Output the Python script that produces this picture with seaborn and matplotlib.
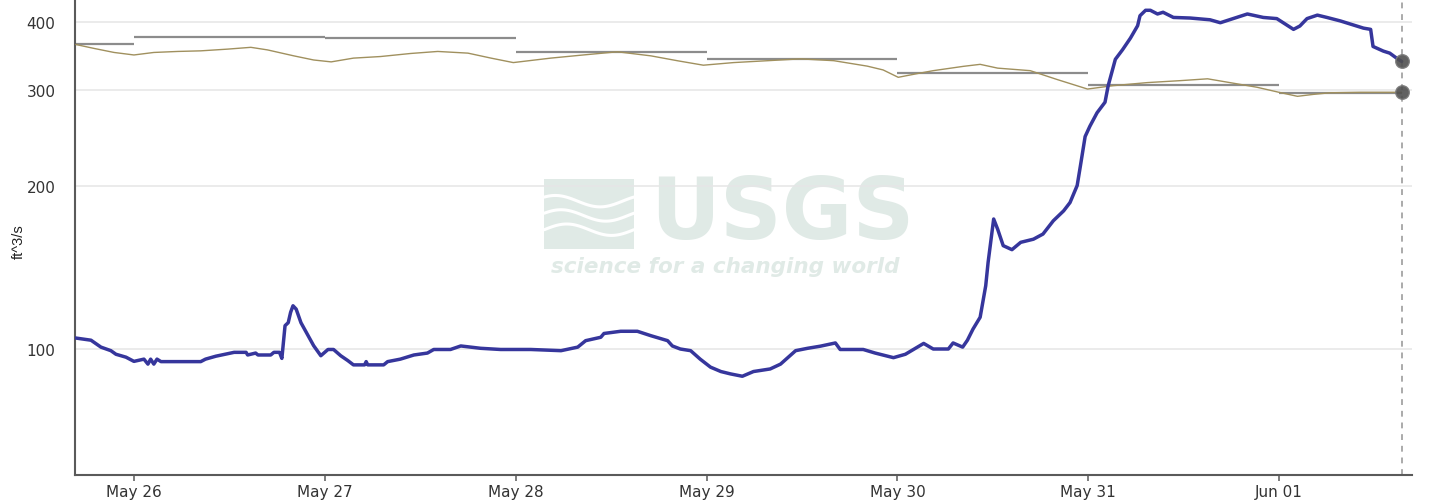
import numpy as np
import pandas as pd
import matplotlib
matplotlib.use("Agg")
import matplotlib.pyplot as plt
import matplotlib.dates as mdates
from matplotlib.patches import Rectangle
import seaborn as sns

# ---- data -------------------------------------------------------------
START = pd.Timestamp("2023-05-26 00:00")

# discharge, hours since May 26 00:00
discharge_hours = [
    -7.4, -5.4, -4.15, -2.9, -2.26, -1.0, 0.0, 1.26, 1.76, 2.1, 2.5, 2.9, 3.4,
    4.6, 8.4, 9.0, 10.3, 12.6, 14.1, 14.3, 15.3, 15.6, 17.2, 17.6, 18.3, 18.6,
    19.0, 19.4, 19.7, 20.0, 20.4, 21.0, 21.9, 22.6, 23.5, 24.4, 25.1, 26.0,
    26.9, 27.6, 29.0, 29.2, 29.4, 31.4, 31.9, 33.5, 35.2, 36.9, 37.7, 39.8,
    41.1, 42.3, 43.6, 46.1, 49.9, 53.7, 55.8, 56.8, 58.7, 59.1, 61.2, 63.3,
    65.0, 67.1, 67.7, 68.7, 70.0, 71.2, 72.5, 73.8, 75.0, 76.5, 77.9, 80.0,
    81.3, 83.2, 84.7, 86.3, 88.2, 88.8, 91.7, 93.2, 95.5, 97.0, 99.3, 100.5,
    102.4, 103.0, 104.2, 104.8, 105.5, 106.4, 107.1, 107.4, 108.1, 108.6,
    109.3, 110.4, 111.5, 113.1, 114.3, 115.6, 116.9, 117.7, 118.6, 119.0,
    119.6, 120.2, 121.1, 122.1, 122.5, 123.4, 124.3, 125.3, 126.2, 126.5,
    127.2, 127.8, 128.7, 129.4, 130.7, 132.8, 135.3, 136.6, 138.2, 140.0,
    142.0, 143.7, 144.5, 145.8, 146.6, 147.5, 148.8, 150.0, 151.7, 152.9,
    154.6, 155.5, 155.8, 157.1, 157.9, 158.9, 159.4,
]
discharge_cfs = [
    105, 104, 101, 99.5, 98, 96.8, 95.1, 96, 94, 96, 94, 96, 95,
    95, 95, 96, 97.2, 98.8, 98.8, 97.7, 98.5, 97.7, 97.7, 98.8, 98.8, 96.3,
    110.6, 112, 117, 120.3, 118.6, 112, 106, 101.6, 97.4, 100, 100, 97.4,
    95.4, 93.7, 93.7, 95, 93.7, 93.7, 95, 96, 97.7, 98.5, 100, 100,
    101.5, 101, 100.5, 100, 100, 99.5, 101, 103.8, 105.3, 107, 108, 108,
    106, 103.8, 101.5, 100.2, 99.5, 96, 92.8, 91.1, 90.2, 89.3, 91.1, 92.1,
    94, 99.5, 100.5, 101.4, 102.8, 100, 100, 98.5, 96.6, 98, 102.6, 100.2,
    100.2, 102.8, 101, 104, 109, 114.6, 130.9, 144.5, 173.6, 166.3,
    155.1, 152.5, 157.3, 159.4, 162.9, 172.3, 179.7, 186.1, 200, 217,
    246, 257, 272, 284.4, 305, 341, 355, 373, 393, 410,
    419.5, 419.5, 413, 416, 407, 406, 403, 398, 405, 413,
    407, 405, 398, 387, 392.5, 405, 411, 407, 401, 396,
    389, 387, 360, 353, 350, 341.5, 338,
]

# second discharge series, hours since May 26 00:00
reference_hours = [
    -7.3, -5.0, -2.5, 0.0, 2.5, 5.5, 8.4, 11.8, 14.7, 16.8, 20.1, 22.6, 24.8,
    27.6, 31.0, 34.8, 38.2, 42.0, 44.9, 47.7, 52.4, 56.5, 60.8, 65.0, 68.4,
    71.6, 75.4, 79.7, 83.8, 88.0, 92.2, 94.2, 96.1, 98.5, 100.5, 104.3, 106.4,
    108.6, 112.7, 116.1, 119.9, 123.1, 127.4, 131.6, 135.0, 137.8, 141.2,
    144.1, 146.3, 148.3, 150.4, 154.2, 159.4,
]
reference_cfs = [
    363, 357, 351, 347.3, 351, 352.5, 353.4, 356, 358.7, 354.8, 346, 340, 337.3,
    342.7, 345, 349.5, 352.5, 350, 342.7, 336.3, 342.7, 347.3, 352, 346, 338.8,
    332.6, 336.3, 339, 341.6, 339, 331.3, 326, 316, 321, 325, 331, 333.8,
    328.5, 325, 313, 300.7, 305, 309, 311.6, 314, 309, 303,
    296.3, 291.6, 294, 296, 296.6, 296.6,
]

# daily statistic, one value per calendar day
daily_dates = ["2023-05-25", "2023-05-26", "2023-05-27", "2023-05-28",
               "2023-05-29", "2023-05-30", "2023-05-31", "2023-06-01"]
daily_cfs = [364, 375, 373, 352, 342, 322, 306, 296]

y_ticks = [100, 200, 300, 400]

# ---- frames -----------------------------------------------------------
flow = pd.DataFrame({
    "time": START + pd.to_timedelta(discharge_hours, unit="h"),
    "cfs": discharge_cfs,
})
ref = pd.DataFrame({
    "time": START + pd.to_timedelta(reference_hours, unit="h"),
    "cfs": reference_cfs,
})
last_time = flow["time"].iloc[-1]
day_start = pd.to_datetime(daily_dates)
day_end = [min(d + pd.Timedelta(days=1), last_time) for d in day_start]

# ---- figure -----------------------------------------------------------
sns.set_theme(style="white")
plt.rcParams["font.family"] = ["DejaVu Sans"]

W, H = 1449, 502
fig = plt.figure(figsize=(W / 100, H / 100), dpi=100)
ax = fig.add_axes([75 / W, (H - 475.7) / H, 1337 / W, 475.7 / H])
ax.set_yscale("log")

# watermark
wm = "#e0eae6"
ax.add_patch(Rectangle((0.351, 0.474), 0.067, 0.147, transform=ax.transAxes,
                       facecolor=wm, edgecolor="none", zorder=0))
xs = np.linspace(0.351, 0.418, 60)
for k, base in enumerate([0.515, 0.545, 0.575]):
    ax.plot(xs, base + 0.012 * np.sin((xs - 0.351) / 0.067 * 2 * np.pi + k * 0.4),
            transform=ax.transAxes, color="white", lw=2.2, zorder=0.5)
ax.text(0.529, 0.548, "USGS", transform=ax.transAxes, ha="center", va="center",
        fontsize=62, fontweight="bold", color=wm, zorder=0)
ax.text(0.486, 0.439, "science for a changing world", transform=ax.transAxes,
        ha="center", va="center", fontsize=15.5, fontweight="bold",
        fontstyle="italic", color=wm, zorder=0)

# gridlines
for v in y_ticks:
    ax.axhline(v, color="#e6e6e6", lw=1.1, zorder=1)

# daily statistic bars
ax.hlines(daily_cfs, day_start, day_end, color="#8c8c8c", lw=1.6, zorder=2)

# series
sns.lineplot(data=ref, x="time", y="cfs", ax=ax, color="#a0905e", lw=1.0,
             estimator=None, zorder=3)
sns.lineplot(data=flow, x="time", y="cfs", ax=ax, color="#36369c", lw=2.5,
             estimator=None, zorder=4)

# current-time marker
ax.axvline(last_time, color="#aaaaaa", lw=1.4, ls=(0, (3, 3)), zorder=2)
ax.scatter([last_time, last_time], [flow["cfs"].iloc[-1], ref["cfs"].iloc[-1]],
           s=95, color="#505050", edgecolor="#7a7a7a", linewidth=1.0,
           alpha=0.9, zorder=5)

# axes
ax.set_xlim(START - pd.Timedelta(hours=7.41), START + pd.Timedelta(hours=160.7))
ax.set_ylim(58.9, 440)
ax.set_yticks(y_ticks)
ax.set_yticklabels([str(v) for v in y_ticks])
ax.yaxis.set_minor_locator(matplotlib.ticker.NullLocator())
ax.xaxis.set_major_locator(mdates.DayLocator())
ax.xaxis.set_major_formatter(mdates.DateFormatter("%b %d"))

ax.tick_params(axis="y", length=0, pad=14, labelsize=11, labelcolor="#333333")
ax.tick_params(axis="x", length=4.5, width=1.2, color="#666666", pad=2,
               labelsize=11, labelcolor="#333333", bottom=True)

for side in ("top", "right"):
    ax.spines[side].set_visible(False)
for side in ("left", "bottom"):
    ax.spines[side].set_color("#5a5a5a")
    ax.spines[side].set_linewidth(1.5)

ax.set_xlabel("")
ax.set_ylabel("ft^3/s", fontsize=10.5, family=["Liberation Sans"], color="#222222")
ax.yaxis.set_label_coords(-0.037, 0.493)

fig.savefig("out.png", dpi=100, facecolor="white")
